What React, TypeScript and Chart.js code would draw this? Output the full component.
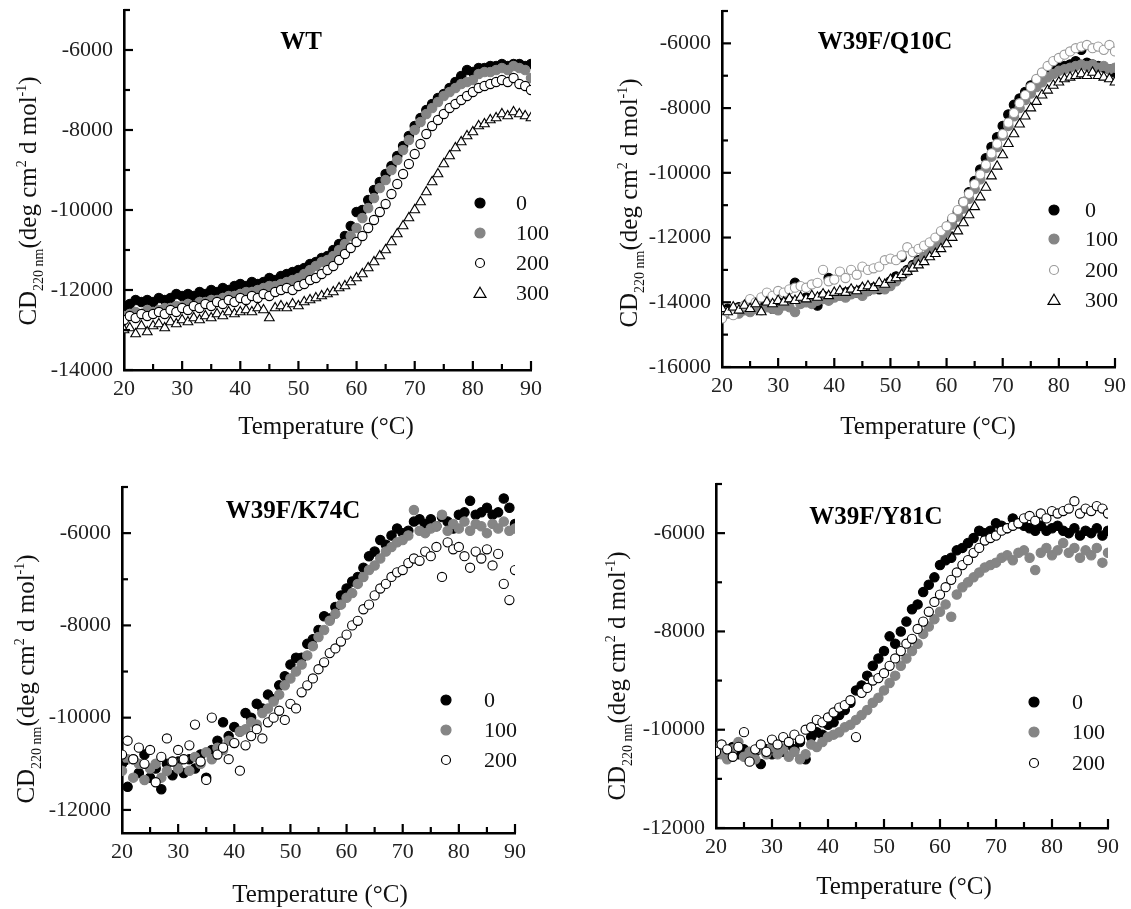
import React, { useEffect, useRef } from "react";
import { Chart, registerables } from "chart.js";

Chart.register(...registerables);

// ---------------- DATA ----------------
const TEMPS = [20, 21, 22, 23, 24, 25, 26, 27, 28, 29, 30, 31, 32, 33, 34, 35, 36, 37, 38, 39, 40, 41, 42, 43, 44, 45, 46, 47, 48, 49, 50, 51, 52, 53, 54, 55, 56, 57, 58, 59, 60, 61, 62, 63, 64, 65, 66, 67, 68, 69, 70, 71, 72, 73, 74, 75, 76, 77, 78, 79, 80, 81, 82, 83, 84, 85, 86, 87, 88, 89, 90];

const X_TICKS = [20, 30, 40, 50, 60, 70, 80, 90];
const LABELS_4 = ["0", "100", "200", "300"];
const LABELS_3 = ["0", "100", "200"];

// WT
const WT_Y_TICKS = [-14000, -12000, -10000, -8000, -6000];
const WT_0 = [-12400, -12350, -12250, -12300, -12250, -12300, -12200, -12250, -12200, -12100, -12150, -12100, -12150, -12050, -12100, -12000, -12050, -11950, -12000, -11900, -11850, -11900, -11800, -11850, -11800, -11700, -11750, -11650, -11600, -11550, -11500, -11450, -11350, -11300, -11200, -11150, -11000, -10850, -10650, -10400, -10050, -10000, -9750, -9500, -9300, -9100, -8900, -8650, -8400, -8150, -7900, -7700, -7500, -7350, -7200, -7100, -6950, -6800, -6650, -6500, -6550, -6450, -6450, -6400, -6400, -6350, -6400, -6350, -6350, -6400, -6350];
const WT_100 = [-12650, -12600, -12550, -12600, -12500, -12550, -12500, -12450, -12450, -12400, -12400, -12350, -12400, -12300, -12300, -12250, -12250, -12200, -12150, -12150, -12100, -12050, -12050, -12000, -11950, -11900, -11900, -11850, -11800, -11750, -11700, -11600, -11500, -11400, -11300, -11250, -11150, -11000, -10850, -10650, -10450, -10200, -9950, -9700, -9450, -9250, -9000, -8750, -8500, -8250, -8000, -7800, -7600, -7450, -7300, -7150, -7050, -6950, -6850, -6800, -6750, -6600, -6550, -6550, -6500, -6450, -6500, -6400, -6450, -6500, -6700];
const WT_200 = [-12750, -12650, -12700, -12600, -12650, -12600, -12550, -12600, -12500, -12550, -12450, -12500, -12400, -12450, -12350, -12400, -12300, -12350, -12250, -12300, -12200, -12250, -12150, -12200, -12100, -12150, -12050, -12000, -11950, -12000, -11900, -11850, -11750, -11700, -11600, -11500, -11400, -11250, -11100, -10950, -10800, -10650, -10450, -10250, -10050, -9850, -9600, -9350, -9100, -8850, -8600, -8350, -8100, -7900, -7750, -7600, -7450, -7350, -7250, -7150, -7050, -6950, -6900, -6850, -6800, -6750, -6800, -6700, -6850, -6900, -7000];
const WT_300 = [-13000, -12950, -13100, -12900, -13050, -12900, -12850, -12950, -12800, -12850, -12750, -12800, -12700, -12750, -12650, -12700, -12600, -12650, -12550, -12600, -12550, -12500, -12550, -12450, -12500, -12700, -12450, -12400, -12450, -12350, -12400, -12300, -12250, -12200, -12150, -12100, -12050, -11950, -11900, -11800, -11700, -11600, -11450, -11300, -11150, -11000, -10800, -10600, -10400, -10200, -10000, -9800, -9550, -9300, -9100, -8850, -8650, -8450, -8300, -8150, -8050, -7900, -7850, -7750, -7700, -7600, -7650, -7550, -7600, -7650, -7700];

// W39F/Q10C
const Q_Y_TICKS = [-16000, -14000, -12000, -10000, -8000, -6000];
const Q_0 = [-14300, -14200, -14250, -14150, -14200, -14100, -14150, -14050, -14100, -14200, -14000, -14050, -13950, -13400, -13950, -13850, -13900, -14100, -13800, -13250, -13800, -13750, -13700, -13650, -13700, -13600, -13650, -13550, -13600, -13500, -13350, -13200, -12600, -13000, -12850, -12700, -12600, -12400, -12200, -11900, -11700, -11450, -11200, -10900, -10600, -10250, -9900, -9550, -9200, -8900, -8550, -8200, -7900, -7700, -7500, -7300, -7150, -7000, -6900, -6850, -6750, -6700, -6650, -6550, -6200, -6600, -6650, -6700, -6750, -6800, -6900];
const Q_100 = [-14400, -14350, -14300, -14350, -14250, -14300, -14200, -14250, -14150, -14200, -14250, -14100, -14150, -14300, -14050, -14000, -14050, -13950, -13900, -13950, -13850, -13800, -13850, -13750, -13700, -13800, -13650, -13600, -13550, -13600, -13500, -13350, -13200, -13050, -12900, -12750, -12600, -12450, -12250, -12050, -11850, -11600, -11350, -11100, -10800, -10500, -10200, -9850, -9500, -9200, -8850, -8550, -8250, -8000, -7750, -7550, -7350, -7200, -7050, -6950, -6850, -6800, -6750, -6700, -6650, -6700, -6650, -6750, -6700, -6800, -6750];
const Q_200 = [-14500, -14300, -14400, -14200, -14100, -13900, -14000, -13850, -13700, -13800, -13650, -13700, -13600, -13550, -13500, -13550, -13450, -13400, -13000, -13350, -13300, -13050, -13250, -13000, -13150, -12900, -13000, -12950, -12900, -12700, -12650, -12700, -12550, -12300, -12450, -12350, -12250, -12150, -12000, -11800, -11650, -11400, -11150, -10900, -10650, -10350, -10050, -9750, -9400, -9100, -8800, -8450, -8150, -7850, -7600, -7350, -7100, -6900, -6700, -6550, -6450, -6350, -6250, -6150, -6100, -6050, -6150, -6100, -6200, -6050, -6250];
const Q_300 = [-14200, -14300, -14150, -14250, -14100, -14200, -14050, -14300, -14000, -14050, -13950, -14000, -13900, -13950, -13850, -13900, -13800, -13850, -13750, -13800, -13700, -13650, -13700, -13600, -13650, -13550, -13500, -13550, -13400, -13450, -13300, -13250, -13150, -13050, -12950, -12850, -12750, -12600, -12500, -12350, -12200, -12000, -11800, -11550, -11300, -11050, -10750, -10450, -10100, -9800, -9450, -9100, -8800, -8500, -8250, -8000, -7800, -7600, -7450, -7300, -7200, -7100, -7050, -7000, -6950, -7000, -6900, -7000, -7050, -7100, -7200];

// W39F/K74C
const K_Y_TICKS = [-12000, -10000, -8000, -6000];
const K_0 = [-11000, -11500, -10900, -11200, -10800, -11300, -11100, -11550, -11000, -11250, -10950, -11200, -10900, -11100, -10800, -11300, -10700, -10500, -10100, -10400, -10200, -10300, -9900, -10000, -9700, -9800, -9500, -9600, -9300, -9100, -8850, -8700, -8700, -8400, -8300, -8100, -7800, -7850, -7600, -7350, -7200, -7050, -6950, -6750, -6500, -6400, -6150, -6250, -6050, -5900, -6000, -5950, -5750, -5700, -5800, -5700, -5850, -5650, -5750, -5900, -5600, -5550, -5300, -5600, -5550, -5450, -5600, -5550, -5250, -5450, -5800];
const K_100 = [-11150, -10900, -11300, -11000, -11350, -11100, -11000, -11300, -11150, -10950, -11100, -10900, -11150, -10850, -11000, -10750, -10900, -10650, -10700, -10500, -10550, -10300, -10250, -10100, -10150, -9900, -9800, -9650, -9500, -9300, -9150, -9000, -8850, -8650, -8450, -8250, -8100, -7900, -7750, -7550, -7400, -7300, -7100, -6950, -6800, -6700, -6550, -6400, -6300, -6200, -6150, -6050, -5500, -5950, -6000, -5900, -5850, -5600, -5950, -5800, -5900, -5750, -5950, -5800, -5850, -6000, -5800, -5900, -5750, -5950, -5900];
const K_200 = [-10800, -10500, -10900, -10650, -11000, -10700, -11400, -10850, -10450, -10950, -10700, -10900, -10600, -10150, -10950, -11350, -10000, -10800, -10650, -10900, -10550, -11150, -10600, -10400, -10250, -10450, -10100, -10000, -9850, -10050, -9700, -9800, -9450, -9300, -9150, -8950, -8800, -8600, -8500, -8350, -8200, -8000, -7900, -7650, -7550, -7350, -7200, -7100, -6950, -6850, -6800, -6650, -6550, -6600, -6400, -6500, -6300, -6950, -6200, -6350, -6300, -6500, -6750, -6400, -6550, -6350, -6700, -6450, -7100, -7450, -6800];

// W39F/Y81C
const Y_Y_TICKS = [-12000, -10000, -8000, -6000];
const Y_0 = [-10500, -10400, -10550, -10350, -10500, -10400, -10600, -10450, -10700, -10400, -10500, -10350, -10450, -10300, -10400, -10250, -10600, -10150, -10050, -10100, -9900, -9850, -9700, -9600, -9450, -9200, -9100, -8900, -8700, -8550, -8400, -8100, -8250, -8000, -7800, -7550, -7450, -7200, -7050, -6900, -6650, -6550, -6500, -6350, -6300, -6200, -6100, -5950, -6000, -5950, -5800, -5850, -5900, -5700, -5800, -5850, -5900, -5950, -5850, -5950, -5900, -5850, -5950, -6000, -5900, -6050, -5950, -6000, -5900, -6050, -5950];
const Y_100 = [-10350, -10500, -10600, -10400, -10250, -10550, -10450, -10600, -10400, -10500, -10350, -10500, -10400, -10550, -10450, -10600, -10500, -10300, -10350, -10250, -10150, -10100, -10050, -9950, -9900, -9800, -9700, -9600, -9450, -9350, -9200, -9050, -8900, -8700, -8550, -8400, -8250, -8050, -7900, -7750, -7600, -7450, -7700, -7250, -7100, -7000, -6900, -6800, -6700, -6650, -6600, -6500, -6450, -6550, -6400, -6350, -6500, -6750, -6400, -6300, -6450, -6350, -6200, -6400, -6300, -6500, -6350, -6450, -6300, -6600, -6400];
const Y_200 = [-10450, -10300, -10400, -10550, -10350, -10050, -10650, -10400, -10300, -10450, -10200, -10300, -10150, -10250, -10100, -10200, -10000, -9950, -9800, -9850, -9750, -9650, -9550, -9500, -9400, -10150, -9250, -9150, -9000, -8950, -8850, -8700, -8550, -8400, -8250, -8150, -7950, -7800, -7600, -7400, -7250, -7100, -6950, -6800, -6650, -6550, -6400, -6300, -6150, -6100, -6050, -5950, -5900, -5850, -5800, -5700, -5650, -5750, -5600, -5700, -5550, -5600, -5550, -5500, -5350, -5600, -5500, -5550, -5450, -5500, -5600];

// ---------------- STYLES / LAYOUT ----------------
const FONT = '"Liberation Serif", "Times New Roman", serif';
const GRAY = "#858585";

type Style = { shape: "circle" | "triangle"; fill: string; stroke: string; r: number; lr: number };
const S_BLACK: Style = { shape: "circle", fill: "#000", stroke: "#000", r: 4.7, lr: 5 };
const S_GRAY: Style = { shape: "circle", fill: GRAY, stroke: GRAY, r: 4.7, lr: 5 };
const S_OPEN: Style = { shape: "circle", fill: "#fff", stroke: "#000", r: 4.6, lr: 4.5 };
const S_OPEN_LIGHT: Style = { shape: "circle", fill: "#fff", stroke: "#9a9a9a", r: 4.6, lr: 4.5 };
const S_TRI: Style = { shape: "triangle", fill: "#fff", stroke: "#000", r: 5.6, lr: 6 };

type Panel = {
  box: { x: number; y: number; w: number; h: number };
  plot: { l: number; t: number; r: number; b: number };
  yMin: number;
  yMax: number;
  yTicks: number[];
  title: string;
  titlePos: { x: number; y: number };
  series: { label: string; data: number[]; style: Style }[];
  legend: { mx: number; lx: number; ys: number[] };
  yTitle: { bx: number; cy: number };
  xTitle: { cx: number; cy: number };
};

const PANELS: Panel[] = [
  {
    box: { x: 0, y: 0, w: 565, h: 455 },
    plot: { l: 124, t: 10, r: 531, b: 370 },
    yMin: -14000, yMax: -5000, yTicks: WT_Y_TICKS,
    title: "WT", titlePos: { x: 301, y: 43 },
    series: [
      { label: LABELS_4[0], data: WT_0, style: S_BLACK },
      { label: LABELS_4[1], data: WT_100, style: S_GRAY },
      { label: LABELS_4[2], data: WT_200, style: S_OPEN },
      { label: LABELS_4[3], data: WT_300, style: S_TRI },
    ],
    legend: { mx: 480, lx: 516, ys: [203, 233, 263, 293] },
    yTitle: { bx: 36, cy: 201 },
    xTitle: { cx: 326, cy: 427 },
  },
  {
    box: { x: 565, y: 0, w: 566, h: 455 },
    plot: { l: 157, t: 11, r: 550, b: 367 },
    yMin: -16000, yMax: -5000, yTicks: Q_Y_TICKS,
    title: "W39F/Q10C", titlePos: { x: 320, y: 43 },
    series: [
      { label: LABELS_4[0], data: Q_0, style: S_BLACK },
      { label: LABELS_4[1], data: Q_100, style: S_GRAY },
      { label: LABELS_4[2], data: Q_200, style: S_OPEN_LIGHT },
      { label: LABELS_4[3], data: Q_300, style: S_TRI },
    ],
    legend: { mx: 489, lx: 520, ys: [210, 239, 270, 300] },
    yTitle: { bx: 72, cy: 203 },
    xTitle: { cx: 363, cy: 427 },
  },
  {
    box: { x: 0, y: 455, w: 565, h: 454 },
    plot: { l: 122, t: 32, r: 515, b: 378 },
    yMin: -12500, yMax: -5000, yTicks: K_Y_TICKS,
    title: "W39F/K74C", titlePos: { x: 293, y: 57 },
    series: [
      { label: LABELS_3[0], data: K_0, style: S_BLACK },
      { label: LABELS_3[1], data: K_100, style: S_GRAY },
      { label: LABELS_3[2], data: K_200, style: S_OPEN },
    ],
    legend: { mx: 446, lx: 484, ys: [245, 275, 305] },
    yTitle: { bx: 34, cy: 224 },
    xTitle: { cx: 320, cy: 440 },
  },
  {
    box: { x: 565, y: 455, w: 566, h: 454 },
    plot: { l: 151, t: 29, r: 543, b: 373 },
    yMin: -12000, yMax: -5000, yTicks: Y_Y_TICKS,
    title: "W39F/Y81C", titlePos: { x: 311, y: 63 },
    series: [
      { label: LABELS_3[0], data: Y_0, style: S_BLACK },
      { label: LABELS_3[1], data: Y_100, style: S_GRAY },
      { label: LABELS_3[2], data: Y_200, style: S_OPEN },
    ],
    legend: { mx: 469, lx: 507, ys: [247, 277, 308] },
    yTitle: { bx: 60, cy: 221 },
    xTitle: { cx: 339, cy: 432 },
  },
];

function drawMarker(ctx: CanvasRenderingContext2D, s: Style, x: number, y: number, r: number) {
  ctx.save();
  ctx.fillStyle = s.fill;
  ctx.strokeStyle = s.stroke;
  ctx.lineWidth = 1.2;
  ctx.beginPath();
  if (s.shape === "circle") {
    ctx.arc(x, y, r, 0, Math.PI * 2);
  } else {
    const h = r * 1.6;
    ctx.moveTo(x, y - h * 0.6);
    ctx.lineTo(x + r, y + h * 0.45);
    ctx.lineTo(x - r, y + h * 0.45);
    ctx.closePath();
  }
  ctx.fill();
  ctx.stroke();
  ctx.restore();
}

function makeDecor(p: Panel) {
  return {
    id: "decor",
    afterDraw(chart: any) {
      const ctx: CanvasRenderingContext2D = chart.ctx;
      const xs = chart.scales.x;
      const ys = chart.scales.y;
      const area = chart.chartArea;
      ctx.save();
      // inward ticks
      ctx.strokeStyle = "#000";
      ctx.lineWidth = 2.2;
      for (let v = 25; v <= 90; v += 5) {
        const px = xs.getPixelForValue(v);
        const len = v % 10 === 0 ? 9 : 6;
        ctx.beginPath();
        ctx.moveTo(px, area.bottom);
        ctx.lineTo(px, area.bottom - len);
        ctx.stroke();
      }
      const yStart = Math.ceil(p.yMin / 1000) * 1000;
      for (let v = yStart; v <= p.yMax; v += 1000) {
        const py = ys.getPixelForValue(v);
        const len = v % 2000 === 0 ? 9 : 6;
        ctx.beginPath();
        ctx.moveTo(area.left, py);
        ctx.lineTo(area.left + len, py);
        ctx.stroke();
      }
      // title
      ctx.fillStyle = "#000";
      ctx.font = `bold 25px ${FONT}`;
      ctx.textAlign = "center";
      ctx.textBaseline = "middle";
      ctx.fillText(p.title, p.titlePos.x, p.titlePos.y);
      // legend
      p.series.forEach((s, i) => {
        drawMarker(ctx, s.style, p.legend.mx, p.legend.ys[i], s.style.lr);
        ctx.fillStyle = "#111";
        ctx.font = `22px ${FONT}`;
        ctx.textAlign = "left";
        ctx.textBaseline = "middle";
        ctx.fillText(s.label, p.legend.lx, p.legend.ys[i] + 1);
      });
      // x title
      ctx.fillStyle = "#111";
      ctx.font = `25px ${FONT}`;
      ctx.textAlign = "center";
      ctx.textBaseline = "middle";
      ctx.fillText("Temperature (°C)", p.xTitle.cx, p.xTitle.cy);
      // y title with sub/superscripts
      const parts = [
        { t: "CD", size: 25, dy: 0 },
        { t: "220 nm", size: 14, dy: 7 },
        { t: "(deg cm", size: 25, dy: 0 },
        { t: "2", size: 14, dy: -10 },
        { t: " d mol", size: 25, dy: 0 },
        { t: "-1", size: 14, dy: -10 },
        { t: ")", size: 25, dy: 0 },
      ];
      let total = 0;
      const widths = parts.map((pt) => {
        ctx.font = `${pt.size}px ${FONT}`;
        const w = ctx.measureText(pt.t).width;
        total += w;
        return w;
      });
      ctx.translate(p.yTitle.bx, p.yTitle.cy);
      ctx.rotate(-Math.PI / 2);
      ctx.textAlign = "left";
      ctx.textBaseline = "alphabetic";
      let cx = -total / 2;
      parts.forEach((pt, i) => {
        ctx.font = `${pt.size}px ${FONT}`;
        ctx.fillText(pt.t, cx, pt.dy);
        cx += widths[i];
      });
      ctx.restore();
    },
  };
}

function PanelChart({ p }: { p: Panel }) {
  const ref = useRef<HTMLCanvasElement | null>(null);
  useEffect(() => {
    if (!ref.current) return;
    const n = p.series.length;
    const datasets = p.series.map((s, i) => ({
      label: s.label,
      data: TEMPS.map((t, j) => ({ x: t, y: s.data[j] })),
      pointStyle: s.style.shape,
      pointRadius: s.style.r,
      pointBackgroundColor: s.style.fill,
      pointBorderColor: s.style.stroke,
      pointBorderWidth: 1.1,
      showLine: false,
      order: n - i,
    }));
    const tickFont = { family: FONT, size: 22 };
    const chart = new Chart(ref.current, {
      type: "scatter",
      data: { datasets },
      options: {
        animation: false,
        responsive: false,
        events: [],
        layout: { padding: { left: 0, top: p.plot.t, right: p.box.w - p.plot.r, bottom: 0 } },
        plugins: { legend: { display: false }, tooltip: { enabled: false }, title: { display: false } },
        scales: {
          x: {
            type: "linear",
            position: "bottom",
            min: 20,
            max: 90,
            afterBuildTicks: (s: any) => {
              s.ticks = X_TICKS.map((v) => ({ value: v }));
            },
            afterFit: (s: any) => {
              s.height = p.box.h - p.plot.b;
              s.paddingLeft = 0;
              s.paddingRight = 0;
            },
            grid: { display: false, drawTicks: false },
            border: { display: true, color: "#000", width: 2.6 },
            ticks: { font: tickFont, color: "#222", padding: 6, maxRotation: 0, autoSkip: false },
          },
          y: {
            type: "linear",
            position: "left",
            min: p.yMin,
            max: p.yMax,
            afterBuildTicks: (s: any) => {
              s.ticks = p.yTicks.map((v) => ({ value: v }));
            },
            afterFit: (s: any) => {
              s.width = p.plot.l;
              s.paddingTop = 0;
              s.paddingBottom = 0;
            },
            grid: { display: false, drawTicks: false },
            border: { display: true, color: "#000", width: 2.6 },
            ticks: { font: tickFont, color: "#222", padding: 11, autoSkip: false, callback: (v: any) => String(v) },
          },
        },
      } as any,
      plugins: [makeDecor(p)],
    });
    return () => chart.destroy();
  }, [p]);
  return (
    <canvas
      ref={ref}
      width={p.box.w}
      height={p.box.h}
      style={{ position: "absolute", left: p.box.x, top: p.box.y, width: p.box.w, height: p.box.h }}
    />
  );
}

export default function App() {
  return (
    <div style={{ position: "absolute", left: 0, top: 0, width: 1131, height: 909, background: "#fff", overflow: "hidden" }}>
      {PANELS.map((p, i) => (
        <PanelChart key={i} p={p} />
      ))}
    </div>
  );
}
